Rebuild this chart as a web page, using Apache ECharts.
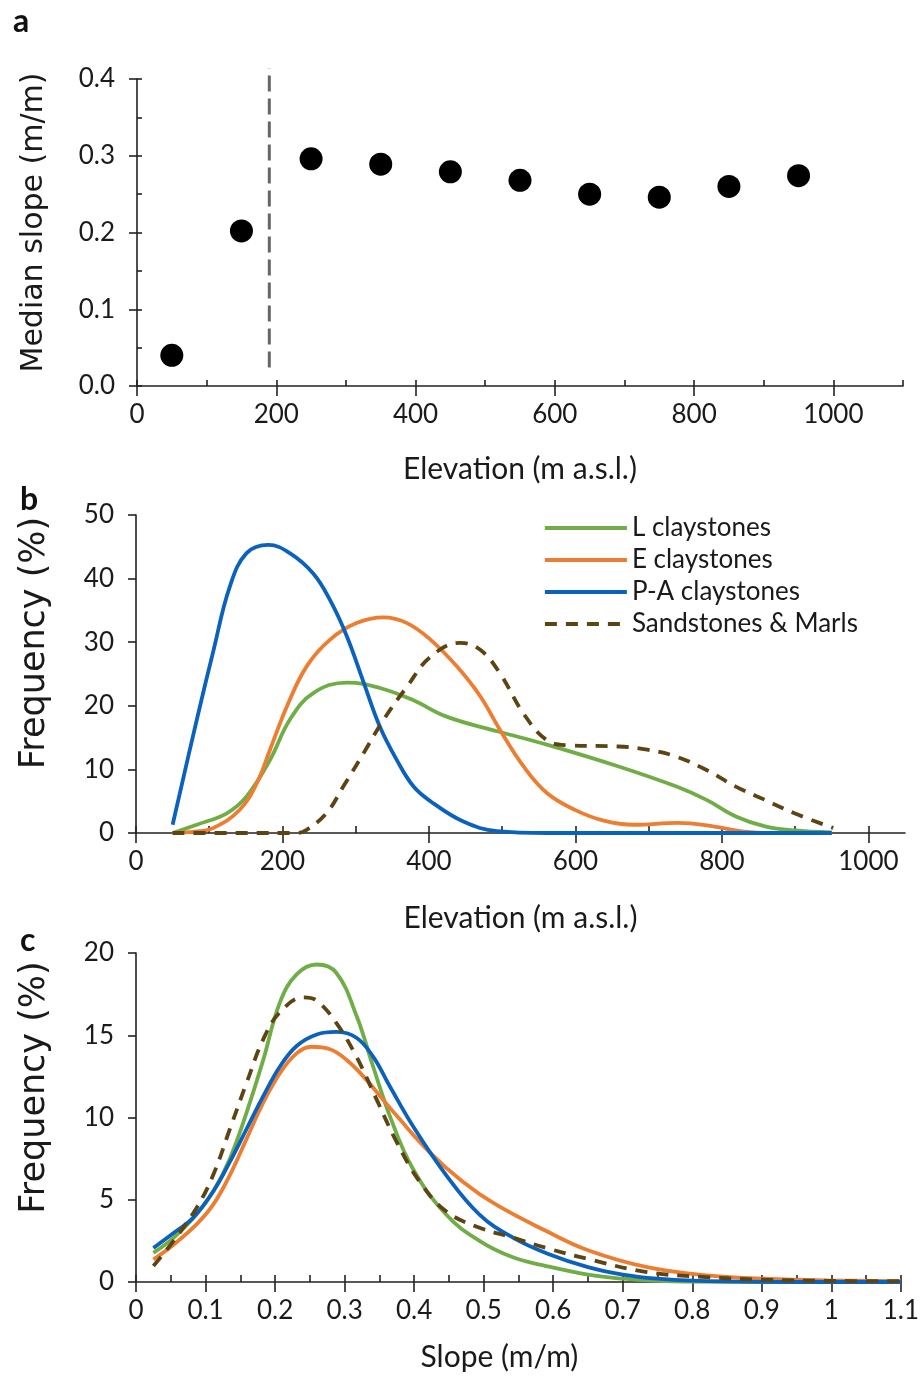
<!DOCTYPE html>
<html>
<head>
<meta charset="utf-8">
<script src="https://cdn.jsdelivr.net/npm/echarts@6.0.0/dist/echarts.min.js"></script>
<style>
  html, body { margin: 0; padding: 0; background: #fff; }
  #chart { width: 922px; height: 1377px; }
</style>
</head>
<body>
<div id="chart"></div>
<script>
// panel a: median slope per 100 m elevation band
const elevA = [50, 150, 250, 350, 450, 550, 650, 750, 850, 950];
const slopeA = [0.040, 0.202, 0.296, 0.289, 0.279, 0.268, 0.250, 0.246, 0.260, 0.274];
const boundaryElev = [190, 190];
const boundarySlope = [0.024, 0.414];

// panel b: elevation frequency distributions
const elevL = [50, 83, 124, 151, 183, 210, 242, 288, 333, 378, 424, 493, 561, 658, 738, 779, 819, 859, 899, 950];
const freqL = [0, 1.3, 3.1, 5.75, 11.5, 17.8, 22.0, 23.65, 22.8, 20.9, 18.3, 16.0, 13.9, 10.5, 7.3, 5.2, 2.6, 1.05, 0.4, 0.1];
const elevE = [50, 80, 106, 142, 165, 183, 206, 233, 265, 301, 338, 370, 402, 438, 470, 497, 529, 561, 600, 640, 680, 740, 790, 830, 870, 950];
const freqE = [0, 0.2, 0.8, 3.7, 7.85, 13.1, 19.9, 26.2, 30.4, 33.0, 33.9, 33.0, 30.4, 26.2, 21.5, 16.2, 10.5, 6.3, 3.6, 1.9, 1.3, 1.6, 1.0, 0.2, 0, 0];
const elevPA = [50, 83, 106, 128, 151, 181, 210, 242, 265, 288, 311, 333, 356, 379, 402, 447, 493, 561, 650, 750, 850, 950];
const freqPA = [1.3, 17.8, 28.8, 38.7, 44.0, 45.3, 44.0, 40.8, 36.6, 30.9, 23.6, 16.7, 11.5, 7.3, 5.0, 1.8, 0.3, 0, 0, 0, 0, 0];
const elevSM = [50, 150, 220, 233, 260, 283, 311, 338, 370, 402, 443, 470, 497, 529, 561, 590, 658, 698, 738, 779, 819, 859, 899, 952];
const freqSM = [0, 0, 0, 0.5, 3.1, 7.3, 12.6, 17.8, 23.0, 27.7, 29.9, 28.8, 25.1, 18.8, 14.6, 13.8, 13.6, 13.1, 12.0, 9.9, 7.3, 5.2, 3.1, 0.8];

// panel c: slope frequency distributions
const slopeL = [0.025, 0.054, 0.087, 0.111, 0.135, 0.159, 0.183, 0.207, 0.231, 0.26, 0.288, 0.317, 0.341, 0.365, 0.398, 0.446, 0.494, 0.542, 0.59, 0.65, 0.7, 0.75, 0.8, 0.9, 1.0, 1.1];
const sfreqL = [1.77, 2.68, 4.1, 5.5, 7.5, 10.3, 13.5, 17.0, 18.7, 19.3, 18.8, 16.2, 13.1, 10.1, 6.9, 4.1, 2.5, 1.5, 0.97, 0.45, 0.2, 0.07, 0.02, 0, 0, 0];
const slopeE = [0.025, 0.054, 0.087, 0.111, 0.135, 0.159, 0.183, 0.207, 0.231, 0.252, 0.279, 0.303, 0.327, 0.351, 0.375, 0.422, 0.47, 0.518, 0.59, 0.65, 0.735, 0.82, 0.905, 0.99, 1.1];
const sfreqE = [1.37, 2.27, 3.5, 4.7, 6.5, 8.7, 10.9, 12.7, 13.9, 14.3, 14.15, 13.5, 12.5, 11.3, 10.1, 7.9, 6.1, 4.7, 3.1, 1.93, 0.9, 0.4, 0.2, 0.1, 0.05];
const slopePA = [0.025, 0.054, 0.082, 0.111, 0.135, 0.159, 0.183, 0.207, 0.231, 0.26, 0.288, 0.317, 0.341, 0.365, 0.398, 0.446, 0.494, 0.542, 0.595, 0.65, 0.7, 0.75, 0.8, 0.9, 1.0, 1.1];
const sfreqPA = [2.07, 2.98, 3.9, 5.5, 7.3, 9.3, 11.3, 13.1, 14.35, 15.05, 15.2, 14.85, 13.7, 11.9, 9.5, 6.5, 4.1, 2.7, 1.67, 0.9, 0.45, 0.2, 0.08, 0.01, 0, 0];
const slopeSM = [0.025, 0.054, 0.087, 0.111, 0.135, 0.159, 0.183, 0.207, 0.241, 0.26, 0.288, 0.317, 0.346, 0.375, 0.408, 0.446, 0.494, 0.542, 0.59, 0.65, 0.735, 0.82, 0.905, 1.0, 1.1];
const sfreqSM = [0.97, 2.5, 4.5, 6.5, 9.3, 12.1, 14.75, 16.4, 17.3, 17.1, 15.75, 13.7, 11.1, 8.5, 6.1, 4.3, 3.3, 2.7, 2.07, 1.4, 0.6, 0.3, 0.14, 0.07, 0.05];

// tick labels
const elevTicks = [0, 200, 400, 600, 800, 1000];
const elevMinorA = [0, 100, 200, 300, 400, 500, 600, 700, 800, 900, 1000, 1100];
const elevMinorB = [0, 100, 200, 300, 400, 500, 600, 700, 800, 900, 1000];

const names = ['L claystones', 'E claystones', 'P-A claystones', 'Sandstones & Marls'];
const colors = ['#70AD47', '#ED7D31', '#0A62BE', '#5E4412'];

const zip = (xs, ys) => xs.map((x, i) => [x, ys[i]]);

const FONT = 'Lato';
const TITLE_FONT = 'DejaVu Sans';
const AX = '#222';
const TXT = '#1a1a1a';
const LW = 3.8;
const plain = v => String(v);

const chart = echarts.init(document.getElementById('chart'));

function mainX(grid, min, max, interval, name, gap, ticks, namePad) {
    const tick = { show: true, inside: false, length: 10, lineStyle: { color: AX, width: 1.6 } };
    const label = { fontFamily: FONT, fontSize: 26, color: TXT, margin: 16, formatter: plain };
    if (ticks) { tick.customValues = ticks; label.customValues = ticks; }
    return {
        type: 'value', gridIndex: grid, position: 'bottom', min: min, max: max, interval: interval,
        name: name, nameLocation: 'middle', nameGap: gap,
        nameTextStyle: { fontFamily: FONT, fontSize: 30, color: TXT, padding: namePad || 0 },
        axisLine: { show: true, onZero: false, lineStyle: { color: AX, width: 1.6 } },
        axisTick: tick,
        axisLabel: label,
        splitLine: { show: false }
    };
}

function minorX(grid, min, max, interval, ticks, len) {
    const tick = { show: true, inside: true, length: len, lineStyle: { color: AX, width: 1.6 } };
    if (ticks) tick.customValues = ticks;
    return {
        type: 'value', gridIndex: grid, position: 'bottom', min: min, max: max, interval: interval,
        axisLine: { show: false, onZero: false },
        axisTick: tick,
        axisLabel: { show: false },
        splitLine: { show: false }
    };
}

function mainY(grid, min, max, interval, name, size, gap, shift, fmt) {
    return {
        type: 'value', gridIndex: grid, position: 'left', min: min, max: max, interval: interval,
        name: name, nameLocation: 'middle', nameRotate: 90, nameGap: gap,
        nameTextStyle: { fontFamily: TITLE_FONT, fontSize: size, color: TXT, padding: [0, 0, 0, shift] },
        axisLine: { show: true, onZero: false, lineStyle: { color: AX, width: 1.6 } },
        axisTick: { show: true, inside: false, length: 8, lineStyle: { color: AX, width: 1.6 } },
        axisLabel: { fontFamily: FONT, fontSize: 26, color: TXT, margin: 22, formatter: fmt || plain },
        splitLine: { show: false }
    };
}

function curve(name, idx, xAxisIndex, yAxisIndex, xs, ys) {
    const dashed = idx === 3;
    return {
        name: name, type: 'line', xAxisIndex: xAxisIndex, yAxisIndex: yAxisIndex,
        data: zip(xs, ys), smooth: 0.4, symbol: 'none', clip: false,
        lineStyle: { color: colors[idx], width: LW, type: dashed ? [12, 9] : 'solid' },
        itemStyle: { color: colors[idx] },
        z: dashed ? 5 : (idx === 2 ? 4 : 3)
    };
}

const option = {
    backgroundColor: '#fff',
    animation: false,
    grid: [
        { left: 137, top: 79, width: 766, height: 307 },
        { left: 136, top: 515, width: 769, height: 318 },
        { left: 136, top: 953, width: 766, height: 329 }
    ],
    xAxis: [
        mainX(0, 0, 1100, 200, 'Elevation (m a.s.l.)', 68, elevTicks),
        minorX(0, 0, 1100, 100, elevMinorA, 6),
        mainX(1, 0, 1050, 200, 'Elevation (m a.s.l.)', 70, elevTicks),
        minorX(1, 0, 1050, 100, elevMinorB, 7),
        mainX(2, 0, 1.1, 0.1, 'Slope (m/m)', 60, null, [0, 38, 0, 0]),
        minorX(2, 0, 1.1, 0.05, null, 7)
    ],
    yAxis: [
        mainY(0, 0, 0.4, 0.1, 'Median slope (m/m)', 30, 88, 20, v => v.toFixed(1)),
        mainY(1, 0, 50, 10, 'Frequency (%)', 35, 84, 62),
        mainY(2, 0, 20, 5, 'Frequency (%)', 35, 84, 60),
        {
            type: 'value', gridIndex: 0, position: 'left', min: 0, max: 0.4, interval: 0.05,
            axisLine: { show: false, onZero: false },
            axisTick: { show: true, inside: true, length: 5, lineStyle: { color: AX, width: 1.6 } },
            axisLabel: { show: false }, splitLine: { show: false }
        }
    ],
    legend: {
        orient: 'vertical', left: 538, top: 510,
        itemWidth: 82, itemHeight: 14, itemGap: 6,
        data: names,
        itemStyle: { opacity: 0 },
        lineStyle: { width: LW },
        textStyle: { fontFamily: FONT, fontSize: 26, lineHeight: 26, color: TXT }
    },
    graphic: [
        { type: 'text', left: 13, top: 6, style: { text: 'a', fontFamily: FONT, fontWeight: 'bold', fontSize: 32, fill: '#111' } },
        { type: 'text', left: 20, top: 484, style: { text: 'b', fontFamily: FONT, fontWeight: 'bold', fontSize: 32, fill: '#111' } },
        { type: 'text', left: 20, top: 925, style: { text: 'c', fontFamily: FONT, fontWeight: 'bold', fontSize: 32, fill: '#111' } }
    ],
    series: [
        {
            type: 'scatter', xAxisIndex: 0, yAxisIndex: 0,
            data: zip(elevA, slopeA), symbolSize: 23,
            itemStyle: { color: '#000', opacity: 1 }
        },
        {
            type: 'line', xAxisIndex: 0, yAxisIndex: 0, clip: false,
            data: zip(boundaryElev, boundarySlope), symbol: 'none',
            lineStyle: { color: '#666', width: 3, type: [16, 7] }
        },
        curve(names[0], 0, 2, 1, elevL, freqL),
        curve(names[1], 1, 2, 1, elevE, freqE),
        curve(names[2], 2, 2, 1, elevPA, freqPA),
        curve(names[3], 3, 2, 1, elevSM, freqSM),
        curve(names[0], 0, 4, 2, slopeL, sfreqL),
        curve(names[1], 1, 4, 2, slopeE, sfreqE),
        curve(names[2], 2, 4, 2, slopePA, sfreqPA),
        curve(names[3], 3, 4, 2, slopeSM, sfreqSM)
    ]
};

chart.setOption(option);
</script>
</body>
</html>
